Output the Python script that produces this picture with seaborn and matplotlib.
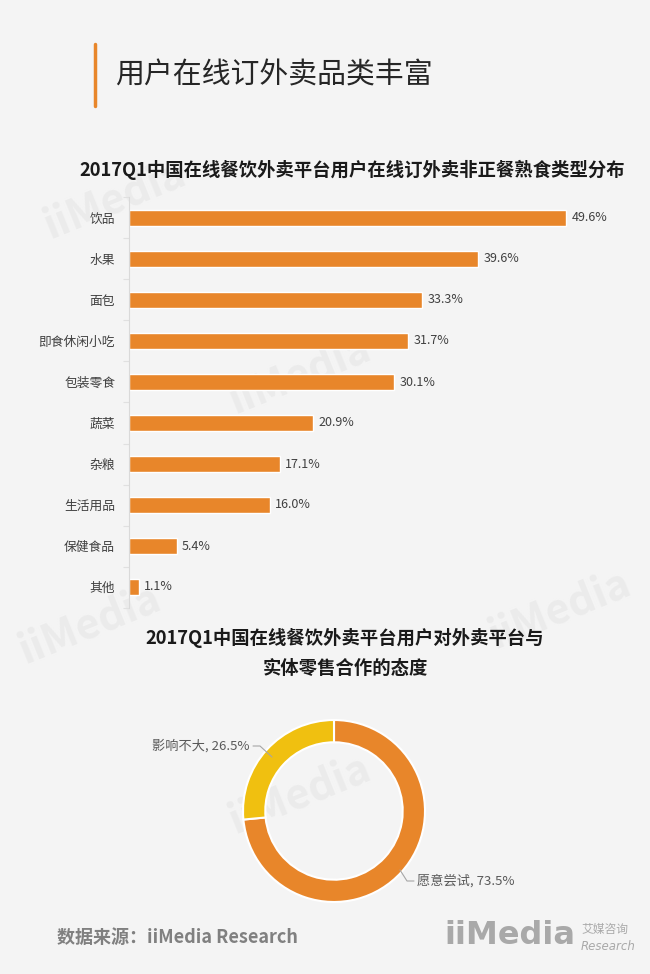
import matplotlib
matplotlib.use("Agg")
import matplotlib.pyplot as plt
import seaborn as sns
import pandas as pd
import numpy as np

categories = ["饮品", "水果", "面包", "即食休闲小吃", "包装零食", "蔬菜", "杂粮", "生活用品", "保健食品", "其他"]
values = [49.6, 39.6, 33.3, 31.7, 30.1, 20.9, 17.1, 16.0, 5.4, 1.1]
donut_labels = ["愿意尝试", "影响不大"]
donut_values = [73.5, 26.5]

main_title = "用户在线订外卖品类丰富"
bar_title = "2017Q1中国在线餐饮外卖平台用户在线订外卖非正餐熟食类型分布"
donut_title = "2017Q1中国在线餐饮外卖平台用户对外卖平台与\n实体零售合作的态度"
source = "数据来源：iiMedia Research"

BG = "#f4f4f4"
ORANGE = "#e8862a"
YELLOW = "#f0c010"

sns.set_theme(style="white")
plt.rcParams['font.family'] = ['Noto Sans CJK SC', 'DejaVu Sans']

W, H = 650, 974
fig = plt.figure(figsize=(6.5, 9.74), dpi=100, facecolor=BG)

def fx(px):
    return px / W
def fy(py):
    return 1 - py / H

# faint watermarks in a background axes
bg = fig.add_axes([0, 0, 1, 1], zorder=-5)
bg.set_xlim(0, W)
bg.set_ylim(H, 0)
bg.axis("off")
for (x, y) in [(115, 200), (300, 375), (560, 610), (300, 795), (90, 625)]:
    bg.text(x, y, "iiMedia", fontsize=30, fontweight="bold", color="#ebebeb",
            rotation=22, ha="center", va="center")

# header
fig.add_artist(plt.Line2D([fx(95), fx(95)], [fy(44), fy(106)], color=ORANGE, lw=2.5))
fig.text(fx(115), fy(75), main_title, fontsize=20.8, fontweight="light", color="#262626",
         ha="left", va="center")

fig.text(fx(352), fy(170), bar_title, fontsize=13.2, fontweight="bold", color="#1a1a1a",
         ha="center", va="center")

# bar chart
pxu = (567 - 130) / 49.6
xmax = 55
ax = fig.add_axes([fx(129), fy(607.5), (pxu * xmax) / W, 410 / H])
ax.set_facecolor("none")
df = pd.DataFrame({"cat": categories, "val": values})
sns.barplot(data=df, x="val", y="cat", color=ORANGE, saturation=1, width=0.37, ax=ax)
ax.set_xlim(0, xmax)
ax.set_ylim(len(categories) - 0.5, -0.5)
for i, v in enumerate(values):
    ax.text(v + 0.6, i, f"{v:.1f}%", fontsize=9, color="#404040", va="center", ha="left")
for s in ["top", "right", "bottom"]:
    ax.spines[s].set_visible(False)
ax.spines["left"].set_color("#d9d9d9")
ax.spines["left"].set_linewidth(0.8)
ax.set_xticks([])
ax.set_xlabel("")
ax.set_ylabel("")
ax.set_yticks(np.arange(-0.5, len(categories), 1.0), minor=True)
ax.tick_params(axis="y", which="major", length=0, pad=10, labelsize=9.2, labelcolor="#404040")
ax.tick_params(axis="y", which="minor", left=True, length=4, width=0.8, color="#e0e0e0")

# donut title
fig.text(fx(345), fy(653), donut_title, fontsize=13.2, fontweight="bold", color="#1a1a1a",
         ha="center", va="center", linespacing=1.75)

# donut
R = 91
half = 160
pax = fig.add_axes([fx(334 - half), fy(811 + half), 2 * half / W, 2 * half / H])
pax.set_facecolor("none")
pax.pie(donut_values, colors=[ORANGE, YELLOW], startangle=90, counterclock=False,
        radius=1, wedgeprops=dict(width=0.245, edgecolor="white", linewidth=1.5))
lim = half / R
pax.set_xlim(-lim, lim)
pax.set_ylim(-lim, lim)
pax.set_aspect("auto")
pax.axis("off")

def d(px, py):
    return ((px - 334) / R, (811 - py) / R)

lab_color = "#595959"
pax.text(*d(250, 746), f"{donut_labels[1]}, {donut_values[1]}%", fontsize=9.5, color=lab_color,
         ha="right", va="center")
x0, y0 = d(253, 746); x1, y1 = d(260, 746); x2, y2 = d(272, 757)
pax.plot([x0, x1, x2], [y0, y1, y2], color="#a6a6a6", lw=0.8)
pax.text(*d(417, 881), f"{donut_labels[0]}, {donut_values[0]}%", fontsize=9.5, color=lab_color,
         ha="left", va="center")
x0, y0 = d(400, 870); x1, y1 = d(407, 881); x2, y2 = d(414, 881)
pax.plot([x0, x1, x2], [y0, y1, y2], color="#a6a6a6", lw=0.8)

# footer
fig.text(fx(57), fy(937), source, fontsize=13, fontweight="bold", color="#808080",
         ha="left", va="center")
fig.text(fx(444), fy(936), "iiMedia", fontsize=23, fontweight="bold", color="#a9a9a9",
         ha="left", va="center", family=["DejaVu Sans"])
fig.text(fx(581), fy(929), "艾媒咨询", fontsize=8.5, color="#a9a9a9", ha="left", va="center")
fig.text(fx(581), fy(946), "Research", fontsize=8.5, color="#a9a9a9", ha="left", va="center",
         style="italic", family=["DejaVu Sans"])

fig.savefig("out.png", dpi=100, facecolor=BG)
